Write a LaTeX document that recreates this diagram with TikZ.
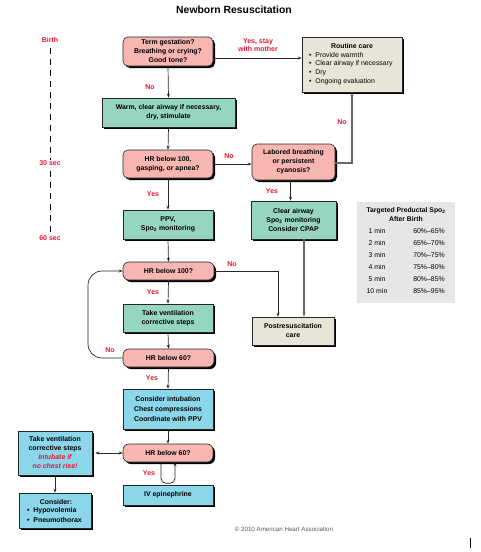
\documentclass[tikz,border=0pt]{standalone}
\usepackage{fontspec}
\setmainfont{Liberation Sans}
\usetikzlibrary{shadows,arrows.meta}
\definecolor{pinkc}{RGB}{248,182,178}
\definecolor{greenc}{RGB}{150,214,190}
\definecolor{cyanc}{RGB}{140,214,234}
\definecolor{beigec}{RGB}{232,229,216}
\definecolor{tablec}{RGB}{230,230,228}
\definecolor{redc}{RGB}{238,20,50}
\begin{document}
\begin{tikzpicture}[x=1pt,y=-1pt,
  shbox/.style={draw=black!85, line width=0.6pt, inner sep=1pt, align=center,
    font=\fontsize{6.9}{9}\selectfont\bfseries,
    drop shadow={shadow xshift=2pt, shadow yshift=-2pt, fill=black, opacity=1}},
  pinkbox/.style={shbox, fill=pinkc, rounded corners=5pt},
  greenbox/.style={shbox, fill=greenc},
  cyanbox/.style={shbox, fill=cyanc},
  beigebox/.style={shbox, fill=beigec},
  lbl/.style={text=redc, font=\fontsize{7}{8.5}\selectfont\bfseries, align=center, inner sep=0pt},
  plain/.style={font=\fontsize{6.9}{8.7}\selectfont, inner sep=0pt},
  bold/.style={font=\fontsize{6.9}{8.7}\selectfont\bfseries, inner sep=0pt, align=center},
  conn/.style={draw=black!85, line width=0.7pt, -{Stealth[length=4pt,width=3pt]}},
  dconn/.style={draw=black!85, line width=0.7pt, {Stealth[length=4pt,width=3pt]}-{Stealth[length=4pt,width=3pt]}},
  gconn/.style={draw=black!60, line width=1.1pt, -{Stealth[length=4pt,width=3pt]}}
]
\useasboundingbox (0,0) rectangle (480,552);

% title
\node[font=\fontsize{10.4}{12}\selectfont\bfseries, inner sep=0pt] (title) at (234,10) {Newborn Resuscitation};

% timeline
\node[lbl] (birth) at (50,40) {Birth};
\node[lbl] (t30) at (50,163) {30 sec};
\node[lbl] (t60) at (50,238) {60 sec};
\draw[line width=0.8pt, dash pattern=on 6pt off 5pt] ([yshift=-5pt]birth.south) -- (t30.north);
\draw[line width=0.8pt, dash pattern=on 6pt off 5pt] ([yshift=-5pt]t30.south) -- (t60.north);

% main boxes
\node[pinkbox, minimum width=90pt, minimum height=29pt] (n1) at (168,51.5) {Term gestation?\\Breathing or crying?\\Good tone?};
\node[beigebox, minimum width=100pt, minimum height=55pt] (routine) at (352,64.5) {};
\node[bold] (rtitle) at (352,46.5) {Routine care};
\node[plain, anchor=west] (r1) at (309,55) {\textbullet\ \ Provide warmth};
\node[plain, anchor=west] (r2) at (309,64) {\textbullet\ \ Clear airway if necessary};
\node[plain, anchor=west] (r3) at (309,72.7) {\textbullet\ \ Dry};
\node[plain, anchor=west] (r4) at (309,81.5) {\textbullet\ \ Ongoing evaluation};

\node[greenbox, minimum width=133pt, minimum height=29pt] (n2) at (168.5,112.5) {Warm, clear airway if necessary,\\dry, stimulate};
\node[pinkbox, minimum width=90pt, minimum height=28pt] (n3) at (168,164) {HR below 100,\\gasping, or apnea?};
\node[pinkbox, minimum width=83pt, minimum height=36pt] (lab) at (293.5,162) {Labored breathing\\or persistent\\cyanosis?};
\node[greenbox, minimum width=85pt, minimum height=38pt] (clear) at (293.5,220) {Clear airway\\Spo\textsubscript{2} monitoring\\Consider CPAP};
\node[greenbox, minimum width=90pt, minimum height=29pt] (ppv) at (168,224.5) {PPV,\\Spo\textsubscript{2} monitoring};
\node[pinkbox, rounded corners=6pt, minimum width=91pt, minimum height=18pt] (hr100) at (168.5,271) {HR below 100?};
\node[greenbox, minimum width=90pt, minimum height=28pt] (tv) at (168,318) {Take ventilation\\corrective steps};
\node[pinkbox, rounded corners=6pt, minimum width=91pt, minimum height=18pt] (hr60a) at (168.5,358) {HR below 60?};
\node[beigebox, minimum width=82pt, minimum height=28pt] (post) at (293,331) {Postresuscitation\\care};
\node[cyanbox, minimum width=90pt, minimum height=40pt, font=\fontsize{6.9}{9.7}\selectfont\bfseries] (intub) at (168,409) {Consider intubation\\Chest compressions\\Coordinate with PPV};
\node[pinkbox, rounded corners=6pt, minimum width=90pt, minimum height=18pt] (hr60b) at (168,453) {HR below 60?};
\node[cyanbox, minimum width=90pt, minimum height=20pt] (iv) at (168,495) {IV epinephrine};
\node[cyanbox, minimum width=74pt, minimum height=44pt] (tvl) at (55,453) {Take ventilation\\corrective steps\\{\color{redc}\itshape Intubate if}\\{\color{redc}\itshape no chest rise!}};
\node[cyanbox, minimum width=72pt, minimum height=35pt] (cons) at (55,510.5) {};
\node[bold] (ctitle) at (56,502) {Consider:};
\node[bold, anchor=west] (c1) at (27,511) {\textbullet\ \ Hypovolemia};
\node[bold, anchor=west] (c2) at (27,520) {\textbullet\ \ Pneumothorax};

% table
\node[fill=tablec, minimum width=98pt, minimum height=101pt, anchor=north west, inner sep=0pt] (tbl) at (357,202) {};
\node[font=\fontsize{6.8}{9}\selectfont\bfseries, align=center, inner sep=0pt] (ttitle) at (406,214.5) {Targeted Preductal Spo\textsubscript{2}\\After Birth};
\node[plain] (a1) at (377,231) {1 min};   \node[plain] (b1) at (429,231) {60\%--65\%};
\node[plain] (a2) at (377,243) {2 min};   \node[plain] (b2) at (429,243) {65\%--70\%};
\node[plain] (a3) at (377,255) {3 min};   \node[plain] (b3) at (429,255) {70\%--75\%};
\node[plain] (a4) at (377,267) {4 min};   \node[plain] (b4) at (429,267) {75\%--80\%};
\node[plain] (a5) at (377,279) {5 min};   \node[plain] (b5) at (429,279) {80\%--85\%};
\node[plain] (a6) at (377,291) {10 min};  \node[plain] (b6) at (429,291) {85\%--95\%};

% connectors
\draw[conn] (n1.east |- 0,58) -- (routine.west |- 0,58);
\node[lbl] (lyes1) at (258,45) {Yes, stay\\with mother};
\draw[conn] (n1.south) -- (n2.north);
\node[lbl] (lno1) at (150,87) {No};
\draw[conn] (n2.south) -- (n3.north);
\draw[conn] (n3.east) -- (lab.west |- n3.east);
\node[lbl] (lno2) at (229,156) {No};
\draw[gconn] (lab.east |- 0,163) -| (routine.south);
\node[lbl] (lno3) at (342,122) {No};
\draw[conn] ([xshift=-3pt]lab.south) -- ([xshift=-3pt]clear.north);
\node[lbl] (lyes2) at (272,191) {Yes};
\draw[gconn] ([xshift=10.5pt]clear.south) -- ([xshift=11pt]post.north);
\draw[conn] (n3.south) -- (ppv.north);
\node[lbl] (lyes3) at (153,194) {Yes};
\draw[conn] (ppv.south) -- (hr100.north);
\draw[conn] (hr100.east) -| ([xshift=-15pt]post.north);
\node[lbl] (lno4) at (232,264) {No};
\draw[conn] (hr100.south) -- (tv.north);
\node[lbl] (lyes4) at (153,292) {Yes};
\draw[conn] (tv.south) -- (hr60a.north);
\draw[conn, rounded corners=14pt] (hr60a.west) -- (88,358) -- (88,271) -- (hr100.west);
\node[lbl] (lno5) at (110,350) {No};
\draw[conn] (hr60a.south) -- (intub.north);
\node[lbl] (lyes5) at (152,378) {Yes};
\draw[conn] (intub.south) -- (hr60b.north);
\draw[dconn] ([xshift=3pt]tvl.east) -- (hr60b.west);
\draw[conn] (tvl.south) -- (cons.north);
\draw[conn, rounded corners=5pt] ([xshift=-7pt]hr60b.south) -- ++(0,21) -| ([xshift=7pt]hr60b.south);
\node[lbl] (lyes6) at (149,473) {Yes};

% footer
\node[font=\fontsize{6.2}{7}\selectfont, text=black!65, inner sep=0pt] (copy) at (284,529) {\textcopyright\ 2010 American Heart Association};
\draw[line width=1pt] (470,538) -- (470,548);
\end{tikzpicture}
\end{document}
